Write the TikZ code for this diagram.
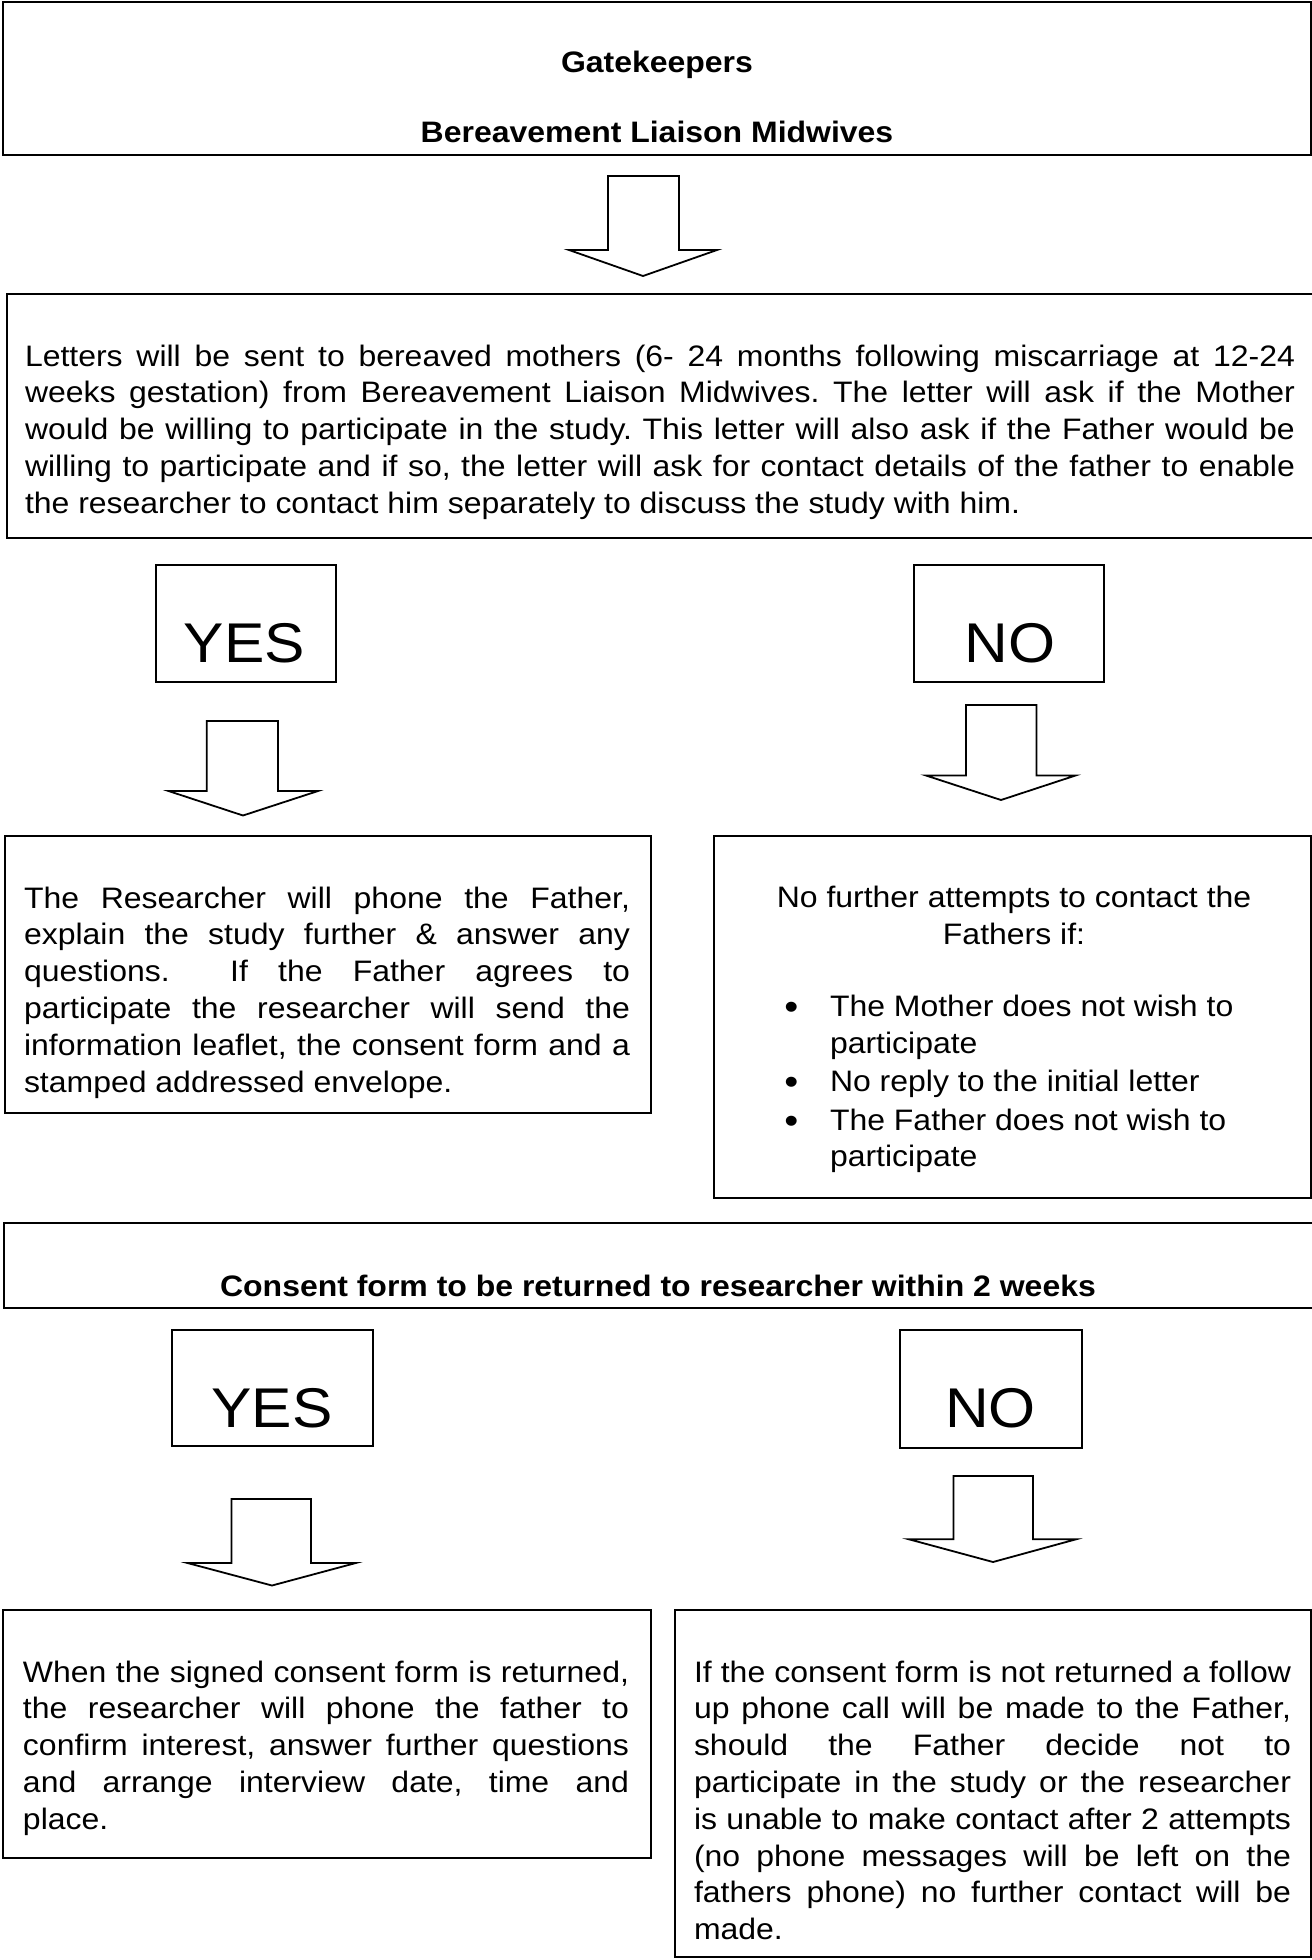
\documentclass[tikz,border=0pt]{standalone}
\usepackage{fontspec}
\setmainfont{Liberation Sans}[FakeStretch=1.08]
\frenchspacing
\newcommand{\bulmark}{\makebox[45.6pt][l]{\raisebox{-3pt}{\fontsize{37}{37}\selectfont •}}}
\begin{document}
\begin{tikzpicture}[x=1pt,y=-1pt,
  box/.style={draw, line width=2pt, rectangle, inner sep=0pt, outer sep=0pt, anchor=north west},
  barrow/.style={draw, line width=1.8pt, line join=miter, fill=white},
  body/.style={inner sep=0pt, outer sep=0pt, anchor=base west, font=\fontsize{29.6}{36.8}\selectfont},
  just/.style={body, align=justify, execute at begin node={\tolerance=10000\hyphenpenalty=10000\parindent=0pt\frenchspacing}},
  title/.style={inner sep=0pt, outer sep=0pt, anchor=base, font=\fontsize{29.6}{36.8}\selectfont\bfseries},
  yn/.style={inner sep=0pt, outer sep=0pt, anchor=base, font=\fontsize{56}{60}\selectfont}
]
\useasboundingbox (0,0) rectangle (1312,1960);

% ---------- boxes ----------
\node[box, minimum width=1308.5pt, minimum height=153pt] (gate) at (2.5,2) {};
\node[box, minimum width=1330pt, minimum height=243.5pt] (letters) at (6.5,294) {};
\node[box, minimum width=180.5pt, minimum height=116.5pt] (yesA) at (155.5,565) {};
\node[box, minimum width=190pt, minimum height=116.5pt] (noA) at (914,565) {};
\node[box, minimum width=646pt, minimum height=277pt] (res) at (5,836) {};
\node[box, minimum width=597pt, minimum height=362pt] (nofurther) at (714,836) {};
\node[box, minimum width=1330pt, minimum height=84.5pt] (consent) at (4,1223) {};
\node[box, minimum width=201pt, minimum height=116.5pt] (yesB) at (171.5,1329.5) {};
\node[box, minimum width=182pt, minimum height=118.5pt] (noB) at (900,1329.5) {};
\node[box, minimum width=648.5pt, minimum height=248pt] (when) at (2.5,1610) {};
\node[box, minimum width=636pt, minimum height=347pt] (iff) at (675,1610) {};

% ---------- block arrows ----------
\draw[barrow] (608,176) -- (679,176) -- (679,250) -- (717,250) -- (643,276) -- (569,250) -- (608,250) -- cycle;
\draw[barrow] (206.7,721) -- (278,721) -- (278,791) -- (318,791) -- (243,815.5) -- (168.5,791) -- (206.7,791) -- cycle;
\draw[barrow] (966,705) -- (1036.5,705) -- (1036.5,775.5) -- (1075.5,775.5) -- (1001,800) -- (926,775.5) -- (966,775.5) -- cycle;
\draw[barrow] (231.5,1499) -- (311,1499) -- (311,1563) -- (355.8,1563) -- (272,1585.5) -- (187.5,1563) -- (231.5,1563) -- cycle;
\draw[barrow] (953.5,1476) -- (1033,1476) -- (1033,1539.3) -- (1076,1539.3) -- (993,1562) -- (909,1539.3) -- (953.5,1539.3) -- cycle;

% ---------- texts ----------
\node[title] (gateT1) at (657,72) {Gatekeepers};
\node[title] (gateT2) at (657,142) {Bereavement Liaison Midwives};

\node[just, text width=1270pt] (lettersT) at (25,366) {Letters will be sent to bereaved mothers (6- 24 months following miscarriage at 12-24\linebreak
weeks gestation) from Bereavement Liaison Midwives. The letter will ask if the Mother\linebreak
would be willing to participate in the study. This letter will also ask if the Father would be\linebreak
willing to participate and if so, the letter will ask for contact details of the father to enable\linebreak
the researcher to contact him separately to discuss the study with him.};

\node[yn] (yesAT) at (244.5,662.7) {YES};
\node[yn] (noAT) at (1010,662.7) {NO};

\node[just, text width=606pt] (resT) at (24,908) {The Researcher will phone the Father,\linebreak
explain the study further \& answer any\linebreak
questions.\ \ If the Father agrees to\linebreak
participate the researcher will send the\linebreak
information leaflet, the consent form and a\linebreak
stamped addressed envelope.};

% base anchor of these two nodes is the baseline of their last line
\node[body, anchor=base, align=center] (nofT) at (1014,944) {No further attempts to contact the\\Fathers if:};
\node[body, align=left] (nofL) at (784.4,1166.9) {\bulmark The Mother does not wish to\\
\hspace*{45.6pt}participate\\[1.5pt]
\bulmark No reply to the initial letter\\[1.5pt]
\bulmark The Father does not wish to\\
\hspace*{45.6pt}participate};

\node[title] (consentT) at (658,1296) {Consent form to be returned to researcher within 2 weeks};

\node[yn] (yesBT) at (272,1427) {YES};
\node[yn] (noBT) at (990.5,1427) {NO};

\node[just, text width=606pt] (whenT) at (23,1682) {When the signed consent form is returned,\linebreak
the researcher will phone the father to\linebreak
confirm interest, answer further questions\linebreak
and arrange interview date, time and\linebreak
place.};

\node[just, text width=597pt] (iffT) at (694,1682) {If the consent form is not returned a follow\linebreak
up phone call will be made to the Father,\linebreak
should the Father decide not to\linebreak
participate in the study or the researcher\linebreak
is unable to make contact after 2 attempts\linebreak
(no phone messages will be left on the\linebreak
fathers phone) no further contact will be\linebreak
made.};
\end{tikzpicture}
\end{document}
